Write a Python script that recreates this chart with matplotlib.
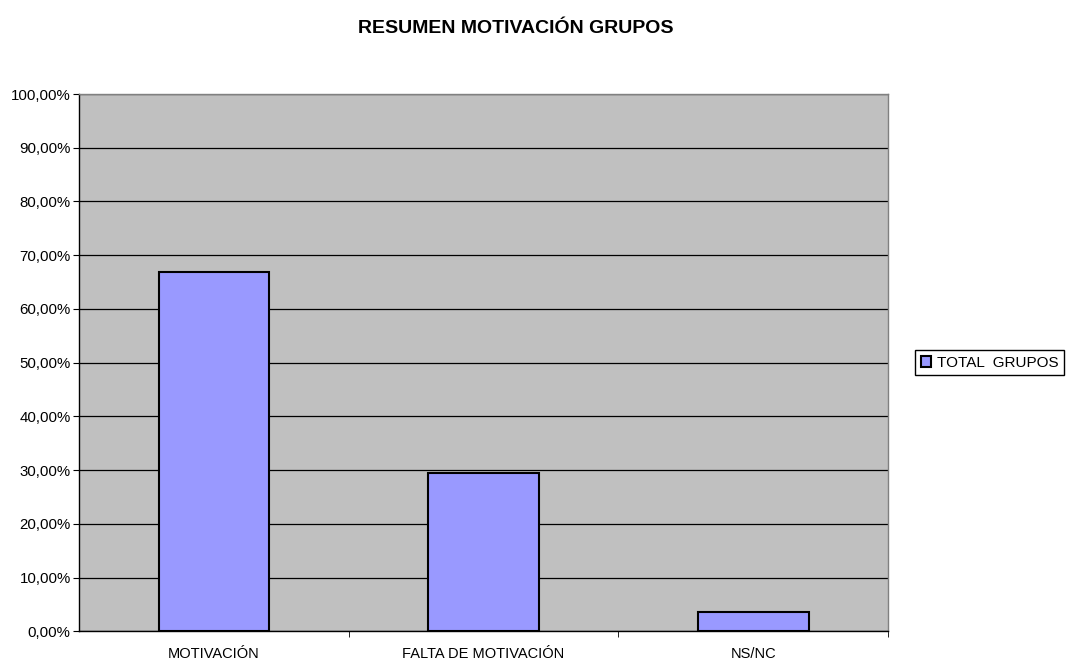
import matplotlib.pyplot as plt
from matplotlib.ticker import FuncFormatter, FixedLocator

plt.rcParams['font.family'] = ['Liberation Sans', 'DejaVu Sans']

# Data
categories = ["MOTIVACIÓN", "FALTA DE MOTIVACIÓN", "NS/NC"]
values = [66.9, 29.4, 3.7]
series_name = "TOTAL  GRUPOS"
title = "RESUMEN MOTIVACIÓN GRUPOS"

fig = plt.figure(figsize=(10.74, 6.62), dpi=100)
ax = fig.add_axes([0.0736, 0.0461, 0.7533, 0.8119])
ax.set_facecolor('#c0c0c0')

x = list(range(len(categories)))
ax.bar(x, values, width=0.41, color='#9999ff', edgecolor='black',
       linewidth=1.5, label=series_name, zorder=3)

ax.set_xlim(-0.5, len(categories) - 0.5)
ax.set_ylim(0, 100)
ax.set_yticks(range(0, 101, 10))
ax.yaxis.set_major_formatter(FuncFormatter(lambda v, p: f"{v:.2f}".replace('.', ',') + "%"))
ax.grid(axis='y', color='black', linewidth=0.9, zorder=1)

ax.set_xticks(x)
ax.set_xticklabels(categories)
ax.xaxis.set_minor_locator(FixedLocator([i + 0.5 for i in range(len(categories))]))
ax.tick_params(axis='x', which='major', length=0, pad=11, labelsize=10.5)
ax.tick_params(axis='x', which='minor', length=4, color='black')
ax.tick_params(axis='y', length=4, labelsize=10.8, pad=2)

ax.spines['left'].set_color('black')
ax.spines['bottom'].set_color('black')
ax.spines['top'].set_color('#808080')
ax.spines['right'].set_color('#808080')
for s in ax.spines.values():
    s.set_linewidth(1.0)

fig.suptitle(title, x=0.48, y=0.97, fontsize=14, fontweight='bold')

leg = fig.legend(loc='center left', bbox_to_anchor=(0.845, 0.452),
                 fancybox=False, edgecolor='black', framealpha=1,
                 fontsize=11, handlelength=0.7, handleheight=0.7,
                 handletextpad=0.4, borderpad=0.35)
leg.get_frame().set_linewidth(1.0)

fig.savefig("out.png", dpi=100)
